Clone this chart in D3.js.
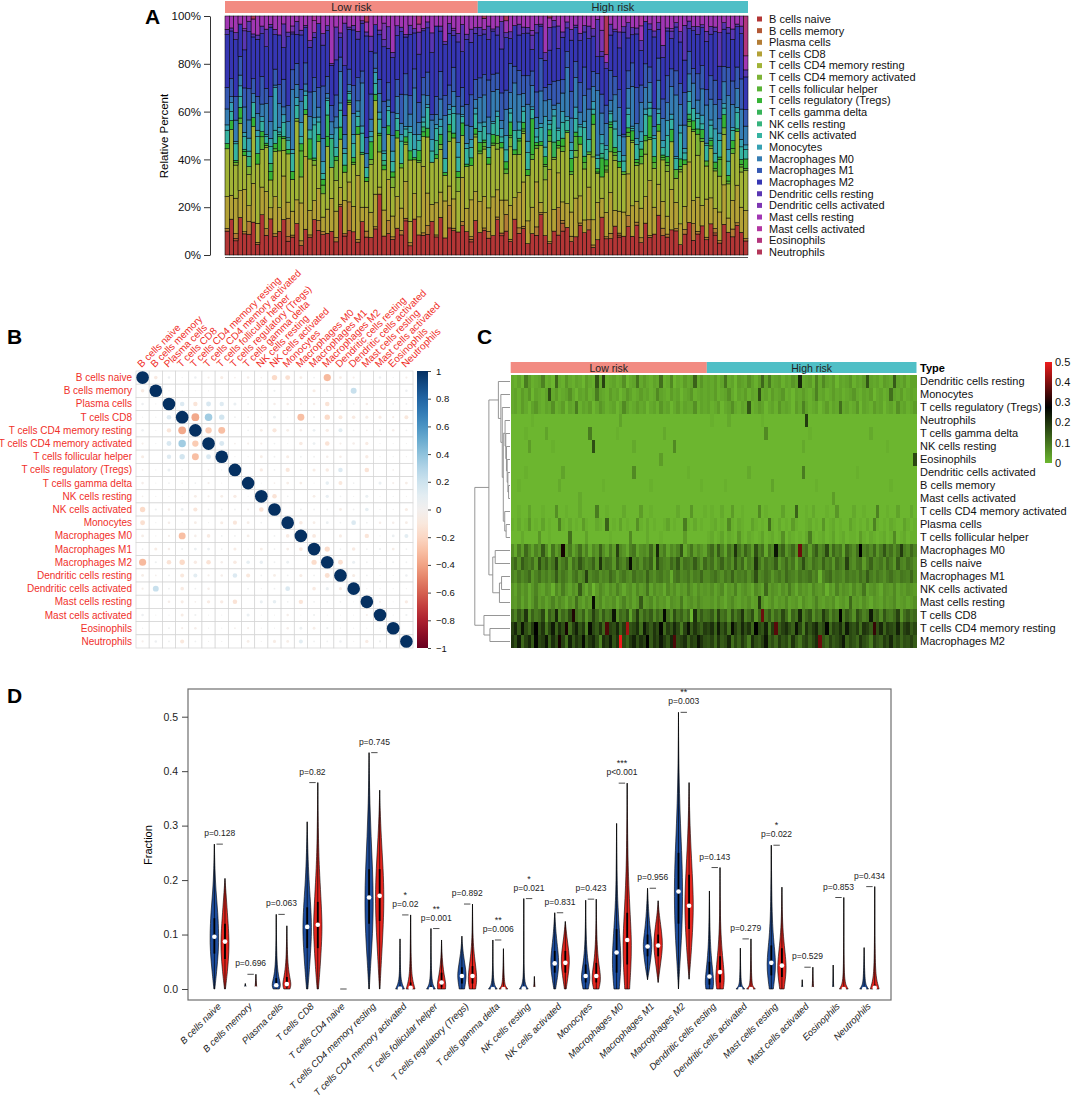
<!DOCTYPE html>
<html>
<head>
<meta charset="utf-8">
<script src="https://cdn.jsdelivr.net/npm/d3@7"></script>
<style>
body { margin: 0; background: #fff; }
svg { font-family: "Liberation Sans", Arial, sans-serif; }
</style>
</head>
<body>
<svg id="fig" width="1072" height="1097"></svg>
<script>
// ---- data -------------------------------------------------------------
var cellTypes = ["B cells naive", "B cells memory", "Plasma cells", "T cells CD8", "T cells CD4 memory resting",
	"T cells CD4 memory activated", "T cells follicular helper", "T cells regulatory (Tregs)", "T cells gamma delta",
	"NK cells resting", "NK cells activated", "Monocytes", "Macrophages M0", "Macrophages M1", "Macrophages M2",
	"Dendritic cells resting", "Dendritic cells activated", "Mast cells resting", "Mast cells activated",
	"Eosinophils", "Neutrophils"];

var riskGroups = ["Low risk", "High risk"];
var riskCounts = [58, 62];

// fraction (%) of each cell type per sample: 58 low risk samples, then 62 high risk samples
var bNaive = [9,12,6,14,10,8,11,5,16,9,13,7,10,18,6,9,12,4,11,8,15,10,7,9,13,6,20,8,11,10,5,14,9,7,12,26,8,10,6,11,9,13,3,17,10,8,7,12,9,15,6,11,10,8,14,9,5,12,
	8,11,5,9,13,7,10,6,15,8,12,4,9,7,20,10,6,11,8,9,14,5,8,12,7,10,3,9,16,8,6,11,9,7,13,8,10,5,12,9,7,18,8,6,10,11,4,9,13,7,8,10,6,12,9,5,14,8,7,11,9,6];
var bMemory = [0,0,1,0,0,0,0,0,0,0,0,0,0,0,2,0,0,0,0,0,0,0,0,0,0,0,0,1,0,0,0,0,0,0,0,0,0,0,0,0,0,1,0,0,0,0,0,0,0,0,0,0,0,0,0,0,1,0,
	0,0,0,0,0,1,0,0,0,0,0,0,0,0,0,0,0,0,0,3,0,0,0,0,0,0,0,0,0,0,0,0,1,0,0,0,0,0,0,0,0,0,0,0,0,0,0,0,0,0,0,0,0,0,1,0,0,0,0,0,0,0];
var plasma = [1,0,2,0,1,5,0,1,0,3,0,1,0,0,8,1,0,2,0,1,0,4,1,0,0,2,1,0,13,0,1,0,3,0,1,0,0,6,1,0,2,0,1,0,0,1,3,0,1,0,0,9,1,0,2,0,1,0,
	0,1,2,0,1,0,7,1,0,2,1,0,0,3,1,0,1,0,11,1,0,2,0,1,0,4,1,0,0,1,2,0,1,0,5,0,1,2,0,1,0,0,3,1,0,1,0,2,0,8,1,0,1,0,2,1,0,0,3,1,0,1];
var tCD8 = [12,8,15,10,20,6,13,9,11,17,4,14,10,22,7,12,9,16,31,11,8,13,5,10,18,12,7,14,9,11,25,6,12,10,15,3,11,19,8,13,10,14,7,12,9,27,11,6,16,10,13,8,12,0,21,9,14,10,
	11,14,7,18,10,12,6,15,9,13,20,8,11,16,5,12,38,10,14,7,12,9,17,11,4,13,10,22,8,12,15,6,11,9,19,13,7,12,10,28,9,14,11,6,16,12,8,10,24,11,13,7,15,10,9,12,18,5,11,14,10,12];
var tCD4Rest = [18,22,14,25,16,12,19,28,15,20,10,17,24,13,21,16,30,11,18,23,15,19,8,26,17,14,20,12,35,18,16,22,13,19,43,15,17,21,11,24,18,14,20,16,27,12,19,15,22,17,9,18,25,14,20,16,13,19,
	17,21,13,24,15,19,11,26,18,14,22,16,20,12,28,17,15,23,10,19,36,14,18,21,16,13,25,17,9,20,15,19,22,14,17,27,12,18,16,21,13,24,17,15,19,11,20,18,14,33,16,22,13,19,17,15,23,12,18,20,14,17];
var tCD4Act = [0,0,1,0,0,3,0,0,0,1,0,0,0,6,0,0,1,0,0,0,2,0,0,0,0,9,0,0,1,0,0,0,0,2,0,0,0,0,4,0,0,1,0,0,0,0,0,0,0,2,0,0,0,5,0,0,0,1,
	0,1,0,0,2,0,0,4,0,0,1,0,0,0,0,7,0,1,0,0,0,0,3,0,0,0,13,0,0,1,0,2,0,0,0,1,0,0,5,0,0,0,0,2,0,0,1,0,0,0,8,0,0,1,0,0,3,0,0,0,2,0];
var tFH = [0,0,0,2,0,0,0,0,5,0,0,1,0,0,0,0,0,11,0,0,0,0,3,0,0,0,0,0,0,1,0,0,0,0,0,7,0,0,0,0,2,0,0,0,1,0,0,0,0,0,0,4,0,0,0,0,0,0,
	1,2,0,1,3,0,2,1,0,5,1,0,2,1,0,1,3,0,1,2,0,1,6,0,2,1,0,1,0,2,9,1,0,1,2,0,1,3,0,1,2,0,1,1,0,4,1,0,2,1,0,1,2,0,1,7,0,1,2,0,1,1];
var tReg = [2,3,1,4,2,0,3,5,2,1,3,2,6,1,2,4,0,3,2,9,1,3,2,4,0,2,5,3,1,2,3,0,2,7,3,1,2,4,2,3,0,2,3,1,5,2,3,0,2,4,1,3,2,2,6,1,3,2,
	3,1,2,4,0,2,3,6,2,1,3,2,15,1,2,4,3,0,2,3,1,5,2,3,2,0,4,2,8,3,1,2,3,0,2,4,1,3,2,11,2,3,1,2,5,0,3,2,1,4,2,3,0,2,3,1,6,2,3,1,2,4];
var tGD = [0,0,0,0,1,0,0,0,0,0,3,0,0,0,0,0,0,0,0,0,0,0,0,9,0,0,0,0,0,0,0,1,0,0,0,0,0,0,0,0,0,0,0,0,0,2,0,0,0,0,0,0,0,0,0,0,0,0,
	0,0,0,0,0,0,0,0,0,0,0,0,0,0,0,0,0,7,0,0,0,0,0,0,0,0,0,0,0,0,1,0,0,0,0,0,0,0,0,0,0,0,0,0,0,0,0,0,2,0,0,0,0,0,0,0,0,0,0,0,0,0];
var nkRest = [0,0,0,0,0,4,0,0,0,0,0,0,1,0,0,0,0,0,0,0,0,0,0,0,16,0,0,0,0,0,0,0,0,0,0,0,2,0,0,0,0,0,0,0,0,0,0,0,7,0,0,0,0,0,0,0,0,0,
	0,0,0,0,0,0,0,0,0,0,0,0,0,0,0,0,0,0,0,0,0,0,0,0,0,0,0,0,2,0,0,0,0,0,0,0,0,0,0,0,0,0,0,0,0,0,0,0,0,0,0,0,0,1,0,0,0,0,0,0,0,0];
var nkAct = [5,3,7,4,6,2,5,8,4,3,6,5,1,7,4,9,5,3,6,4,14,5,2,6,0,4,7,5,3,6,4,8,5,2,5,6,3,7,4,5,10,3,6,4,5,2,7,4,6,3,5,4,8,5,3,6,4,5,
	4,6,3,5,7,2,5,4,8,3,5,6,4,2,7,5,3,12,4,6,5,3,6,4,9,5,2,6,4,5,3,7,5,4,6,1,5,3,8,4,6,5,3,7,4,5,10,3,5,6,4,2,6,5,4,7,3,5,4,6,5,4];
var mono = [2,3,1,4,2,5,0,3,2,1,3,16,2,4,1,2,3,6,2,0,3,2,4,1,2,9,3,2,1,4,2,3,0,2,5,3,1,2,4,2,3,1,2,7,3,2,1,4,2,3,0,2,3,5,1,2,3,2,
	3,2,4,1,2,3,6,2,0,3,2,4,1,3,2,16,2,3,1,4,2,3,5,1,2,0,3,2,4,2,1,3,8,2,3,1,2,4,2,3,1,2,3,5,2,1,3,2,4,0,2,3,1,2,11,3,2,4,1,2,3,2];
var m0 = [6,2,9,4,12,7,3,8,5,14,6,1,10,4,7,30,5,9,3,6,11,4,8,2,7,5,13,6,3,9,4,18,7,5,2,8,10,3,6,7,5,12,4,22,6,9,3,7,5,8,15,2,6,10,4,7,5,3,
	9,12,5,14,8,3,11,7,20,10,6,13,9,4,16,8,11,2,10,7,25,9,13,5,8,12,6,38,9,11,4,10,14,7,9,17,5,12,8,10,3,13,9,6,11,28,8,10,7,12,5,9,15,8,11,6,10,19,9,7,12,8];
var m1 = [8,6,10,7,9,12,5,8,11,7,9,6,8,14,7,10,8,5,9,11,6,8,18,7,9,10,6,8,7,12,9,5,8,10,7,6,11,8,9,7,13,8,6,9,10,7,8,2,9,11,7,8,10,6,9,8,12,7,
	7,9,11,8,6,10,8,13,7,9,8,10,6,9,16,7,8,11,9,5,8,10,7,12,9,8,6,10,8,9,11,7,9,1,8,10,12,7,9,8,6,10,8,9,7,11,8,14,9,7,10,8,6,9,11,8,7,10,9,8,12,7];
var m2 = [20,16,24,12,18,22,14,27,17,19,25,13,21,16,30,18,11,23,15,20,17,26,14,19,22,16,8,21,18,24,15,20,51,17,13,19,23,16,21,18,28,14,20,17,24,19,15,22,35,16,18,21,13,19,17,25,20,16,
	15,18,12,20,14,16,22,11,17,13,19,15,9,21,16,14,18,25,13,16,12,19,15,17,11,20,14,10,16,18,13,17,21,38,15,12,18,14,16,19,24,13,17,15,12,20,16,14,9,18,15,13,19,16,22,14,17,12,16,15,18,14];
var dcRest = [2,1,3,0,9,4,1,2,3,8,1,2,0,12,2,1,5,2,1,3,2,0,4,2,1,15,2,18,1,2,3,1,2,6,0,2,3,10,2,4,2,1,3,2,11,1,2,7,0,2,1,4,2,3,13,2,5,2,
	3,2,4,1,3,10,2,3,0,4,3,2,6,3,1,4,12,3,9,2,3,4,1,3,2,5,3,22,2,3,4,1,8,2,7,3,2,4,0,3,2,3,5,1,3,2,4,15,3,2,3,1,4,3,2,14,3,2,4,1,3,3];
var dcAct = [0,0,0,0,1,0,0,0,0,0,0,0,0,0,0,3,0,0,0,0,0,0,0,0,0,0,0,0,0,0,0,0,0,0,0,0,7,0,0,0,0,0,0,0,0,0,0,0,0,0,0,0,1,0,0,0,0,0,
	0,0,0,0,0,0,0,0,0,0,0,0,2,0,0,0,0,0,0,0,0,0,0,0,0,0,0,0,9,0,0,0,0,0,0,0,0,0,0,0,0,0,0,0,1,0,0,0,0,0,0,0,0,0,0,0,0,0,0,0,0,0];
var mastRest = [5,4,7,3,6,2,5,9,4,6,3,5,8,4,7,5,2,6,4,11,5,3,6,4,26,5,7,3,5,4,6,2,5,8,4,6,3,5,14,4,5,7,3,6,4,5,2,6,5,4,9,3,5,6,4,7,5,4,
	4,5,3,6,4,2,5,7,4,3,5,4,6,3,4,19,5,2,4,6,3,5,4,7,3,4,5,2,6,4,3,5,8,4,3,5,4,6,2,4,5,3,12,4,5,3,6,4,2,5,4,3,6,4,5,7,3,4,5,3,4,6];
var mastAct = [0,0,0,0,0,0,0,0,0,0,0,0,0,0,0,0,0,0,0,0,2,0,0,0,0,0,0,0,0,0,0,0,0,0,0,0,0,0,0,0,0,0,0,0,0,0,0,0,0,0,0,0,0,0,0,0,0,0,
	0,0,0,0,0,0,0,0,0,0,0,0,0,0,0,0,0,0,0,0,0,0,0,0,0,0,0,0,0,0,0,0,0,0,0,0,0,4,0,0,0,0,0,0,0,0,0,0,0,0,0,0,0,0,0,0,0,0,0,0,0,0];
var eos = [0,0,0,0,0,0,0,0,0,0,0,0,0,0,0,0,0,0,0,0,0,0,0,0,0,0,0,0,0,0,0,0,0,0,0,0,0,0,0,0,0,0,0,0,4,0,0,0,0,0,0,0,0,0,0,0,0,0,
	0,0,0,0,0,0,0,0,0,0,0,0,0,0,0,0,0,0,0,0,0,0,0,0,0,0,0,0,0,0,0,0,0,0,0,0,0,0,0,0,0,0,0,0,0,0,0,0,0,0,0,0,0,0,0,0,0,0,0,0,0,17];
var neut = [0,0,0,0,0,0,1,0,0,0,0,0,0,0,0,0,0,0,0,0,0,0,0,0,0,0,0,0,0,0,0,0,3,0,0,0,0,0,0,0,0,0,0,0,0,0,0,0,0,0,0,0,0,0,0,0,0,0,
	0,1,0,0,0,0,2,0,0,0,0,0,0,0,0,0,1,0,0,0,0,0,0,0,0,0,0,0,0,19,0,0,0,0,0,0,0,0,0,0,0,0,0,0,0,0,0,0,0,0,0,0,0,0,0,0,0,0,0,0,0,0];

var cellValues = [bNaive, bMemory, plasma, tCD8, tCD4Rest, tCD4Act, tFH, tReg, tGD, nkRest, nkAct, mono,
	m0, m1, m2, dcRest, dcAct, mastRest, mastAct, eos, neut];

// correlation matrix, lower triangle (row i, columns 0..i-1)
var corrLower = [
	[],
	[-0.08],
	[0.04, 0.01],
	[0.01, 0.01, 0.13],
	[0.04, 0.01, -0.12, -0.38],
	[-0.03, 0.01, 0.15, 0.35, -0.25],
	[-0.06, 0.00, 0.12, 0.18, -0.30, 0.15],
	[-0.02, 0.01, 0.06, 0.02, 0.00, -0.02, 0.01],
	[-0.04, 0.01, 0.02, -0.02, 0.02, -0.03, -0.01, 0.00],
	[-0.02, 0.01, 0.01, 0.01, -0.05, -0.03, -0.05, -0.07, 0.01],
	[-0.18, 0.03, -0.04, 0.05, -0.11, 0.02, 0.02, 0.02, -0.02, -0.13],
	[-0.15, 0.01, -0.04, 0.01, -0.05, 0.01, -0.06, -0.11, -0.05, 0.02, 0.00],
	[-0.05, 0.01, -0.03, -0.30, -0.04, -0.08, 0.02, 0.02, -0.05, 0.00, 0.02, -0.08],
	[0.02, -0.06, -0.04, 0.03, 0.05, 0.05, 0.02, -0.06, 0.01, -0.05, 0.02, -0.05, -0.09],
	[-0.32, 0.03, -0.13, -0.18, -0.07, -0.13, -0.04, -0.08, 0.08, 0.07, 0.02, 0.05, 0.00, -0.17],
	[-0.05, -0.02, 0.02, -0.10, 0.10, -0.03, -0.04, 0.13, -0.10, 0.02, -0.05, 0.02, -0.06, 0.02, -0.15],
	[-0.03, 0.22, 0.02, -0.08, 0.02, -0.04, 0.00, 0.00, 0.02, 0.01, 0.02, 0.14, 0.00, -0.08, 0.06, -0.06],
	[0.00, 0.00, -0.04, -0.06, -0.02, -0.07, -0.07, -0.13, 0.00, 0.06, 0.08, 0.02, -0.12, 0.02, 0.02, 0.02, 0.01],
	[0.04, 0.01, 0.01, -0.06, 0.03, 0.01, 0.01, 0.00, 0.06, 0.01, 0.01, -0.04, 0.01, 0.03, 0.01, 0.01, 0.01, -0.03],
	[0.01, 0.00, 0.02, -0.03, -0.04, 0.01, 0.01, -0.02, -0.03, 0.01, 0.01, -0.04, 0.05, -0.05, 0.03, 0.01, 0.01, 0.01, 0.01],
	[-0.03, 0.04, 0.02, -0.10, 0.02, 0.01, 0.01, 0.00, -0.05, 0.01, -0.06, -0.05, 0.10, 0.02, 0.02, 0.04, 0.01, -0.07, 0.03, 0.00]
];
var corrTicks = [1, 0.8, 0.6, 0.4, 0.2, 0, -0.2, -0.4, -0.6, -0.8, -1];

// heatmap row order and dendrogram [height, left, right]; leaves are row positions
var heatOrder = ["Dendritic cells resting", "Monocytes", "T cells regulatory (Tregs)", "Neutrophils", "T cells gamma delta",
	"NK cells resting", "Eosinophils", "Dendritic cells activated", "B cells memory", "Mast cells activated",
	"T cells CD4 memory activated", "Plasma cells", "T cells follicular helper", "Macrophages M0", "B cells naive",
	"Macrophages M1", "NK cells activated", "Mast cells resting", "T cells CD8", "T cells CD4 memory resting", "Macrophages M2"];
var heatTree = [1.0,
	[0.6,
		[0.33, 0, [0.26, 1, [0.22, 2, [0.19,
			[0.14, 3, [0.12, 4, [0.10, 5, [0.08, 6, [0.06, 7, [0.04, 8, 9]]]]]],
			[0.15, 10, [0.11, 11, 12]]]]]],
		[0.49, [0.42, 13, 14], [0.3, [0.24, 15, 16], 17]]],
	[0.74, 18, [0.57, 19, 20]]];
var heatTicks = [0, 0.1, 0.2, 0.3, 0.4, 0.5];

// violin plot: low risk (blue) vs high risk (red)
var violinCells = ["B cells naive", "B cells memory", "Plasma cells", "T cells CD8", "T cells CD4 naive",
	"T cells CD4 memory resting", "T cells CD4 memory activated", "T cells follicular helper", "T cells regulatory (Tregs)",
	"T cells gamma delta", "NK cells resting", "NK cells activated", "Monocytes", "Macrophages M0", "Macrophages M1",
	"Macrophages M2", "Dendritic cells resting", "Dendritic cells activated", "Mast cells resting", "Mast cells activated",
	"Eosinophils", "Neutrophils"];
var medLow  = [0.096, 0.001, 0.007, 0.114, 0, 0.168, 0.001, 0, 0.024, 0, 0.001, 0.047, 0.024, 0.067, 0.078, 0.179, 0.023, 0, 0.048, 0, 0, 0];
var medHigh = [0.087, 0.001, 0.009, 0.118, 0, 0.171, 0.002, 0.012, 0.024, 0, 0, 0.048, 0.024, 0.090, 0.080, 0.153, 0.031, 0, 0.043, 0, 0, 0.002];
var q1Low  = [0.065, 0, 0.002, 0.075, 0, 0.120, 0, 0, 0.010, 0, 0, 0.030, 0.012, 0.030, 0.060, 0.120, 0.008, 0, 0.025, 0, 0, 0];
var q3Low  = [0.130, 0.001, 0.020, 0.150, 0, 0.220, 0.006, 0.006, 0.040, 0.003, 0.004, 0.070, 0.045, 0.110, 0.100, 0.250, 0.050, 0.002, 0.080, 0, 0, 0.002];
var q1High = [0.055, 0, 0.003, 0.075, 0, 0.125, 0, 0.003, 0.010, 0, 0, 0.030, 0.012, 0.045, 0.060, 0.110, 0.012, 0, 0.022, 0, 0, 0];
var q3High = [0.120, 0.002, 0.022, 0.160, 0, 0.220, 0.012, 0.030, 0.042, 0.002, 0.001, 0.070, 0.048, 0.140, 0.100, 0.210, 0.060, 0.003, 0.075, 0.001, 0.003, 0.008];
// density outline: [fraction, relative half width]
var profLow = [
	[[0, 0.1], [0.03, 0.5], [0.07, 0.95], [0.1, 1], [0.14, 0.8], [0.18, 0.35], [0.22, 0.12], [0.266, 0]],
	[[0, 0.3], [0.003, 0.2], [0.01, 0]],
	[[0, 0.7], [0.006, 1], [0.015, 0.8], [0.03, 0.35], [0.06, 0.12], [0.1, 0.04], [0.137, 0]],
	[[0, 0.15], [0.04, 0.55], [0.09, 0.95], [0.12, 1], [0.16, 0.75], [0.2, 0.4], [0.25, 0.15], [0.307, 0]],
	null,
	[[0, 0.05], [0.05, 0.4], [0.1, 0.8], [0.16, 1], [0.22, 0.8], [0.28, 0.45], [0.34, 0.18], [0.4, 0.05], [0.434, 0]],
	[[0, 1], [0.005, 0.7], [0.015, 0.25], [0.04, 0.06], [0.092, 0]],
	[[0, 1], [0.005, 0.6], [0.015, 0.2], [0.05, 0.04], [0.111, 0]],
	[[0, 0.6], [0.015, 0.9], [0.028, 1], [0.045, 0.7], [0.065, 0.3], [0.085, 0.08], [0.097, 0]],
	[[0, 1], [0.004, 0.6], [0.012, 0.2], [0.04, 0.04], [0.09, 0]],
	[[0, 1], [0.005, 0.55], [0.015, 0.15], [0.05, 0.03], [0.166, 0]],
	[[0, 0.2], [0.02, 0.6], [0.045, 1], [0.07, 0.75], [0.1, 0.3], [0.14, 0]],
	[[0, 0.6], [0.015, 0.95], [0.025, 1], [0.045, 0.6], [0.07, 0.25], [0.11, 0.06], [0.163, 0]],
	[[0, 0.6], [0.03, 0.9], [0.06, 1], [0.1, 0.7], [0.15, 0.3], [0.2, 0.1], [0.304, 0]],
	[[0.017, 0], [0.04, 0.5], [0.07, 0.95], [0.085, 1], [0.11, 0.6], [0.14, 0.25], [0.185, 0]],
	[[0, 0], [0.05, 0.35], [0.1, 0.75], [0.17, 1], [0.24, 0.8], [0.3, 0.45], [0.38, 0.15], [0.45, 0.04], [0.508, 0]],
	[[0, 0.8], [0.012, 1], [0.03, 0.8], [0.06, 0.4], [0.1, 0.12], [0.18, 0]],
	[[0, 1], [0.004, 0.5], [0.012, 0.1], [0.075, 0]],
	[[0, 0.45], [0.025, 0.85], [0.045, 1], [0.07, 0.8], [0.1, 0.4], [0.15, 0.12], [0.264, 0]],
	[[0, 0.2], [0.004, 0.08], [0.017, 0]],
	[[0, 0.2], [0.004, 0.08], [0.044, 0]],
	[[0, 1], [0.005, 0.55], [0.015, 0.15], [0.076, 0]]
];
var profHigh = [
	[[0, 0.1], [0.03, 0.55], [0.07, 0.95], [0.1, 0.9], [0.14, 0.55], [0.18, 0.2], [0.203, 0]],
	[[0, 0.3], [0.004, 0.15], [0.027, 0]],
	[[0, 0.7], [0.008, 1], [0.02, 0.7], [0.04, 0.3], [0.07, 0.1], [0.116, 0]],
	[[0, 0.15], [0.04, 0.55], [0.09, 0.9], [0.12, 1], [0.17, 0.7], [0.22, 0.35], [0.28, 0.12], [0.379, 0]],
	null,
	[[0, 0.05], [0.06, 0.45], [0.12, 0.85], [0.17, 1], [0.22, 0.8], [0.28, 0.35], [0.33, 0.1], [0.365, 0]],
	[[0, 1], [0.006, 0.8], [0.02, 0.35], [0.05, 0.1], [0.136, 0]],
	[[0, 0.9], [0.01, 1], [0.025, 0.6], [0.045, 0.25], [0.07, 0.06], [0.09, 0]],
	[[0, 0.7], [0.015, 1], [0.03, 0.9], [0.05, 0.6], [0.07, 0.3], [0.1, 0.08], [0.156, 0]],
	[[0, 1], [0.004, 0.55], [0.012, 0.15], [0.074, 0]],
	[[0, 0.25], [0.005, 0.1], [0.023, 0]],
	[[0, 0.2], [0.025, 0.65], [0.048, 1], [0.07, 0.8], [0.095, 0.35], [0.124, 0]],
	[[0, 0.6], [0.015, 1], [0.03, 0.9], [0.05, 0.5], [0.08, 0.2], [0.12, 0.05], [0.165, 0]],
	[[0, 0.55], [0.04, 0.85], [0.08, 1], [0.12, 0.8], [0.18, 0.4], [0.25, 0.12], [0.378, 0]],
	[[0.012, 0], [0.04, 0.45], [0.07, 0.95], [0.09, 1], [0.12, 0.55], [0.14, 0.2], [0.162, 0]],
	[[0.018, 0], [0.06, 0.45], [0.12, 0.9], [0.16, 1], [0.21, 0.75], [0.27, 0.35], [0.33, 0.1], [0.379, 0]],
	[[0, 0.75], [0.015, 1], [0.035, 0.9], [0.07, 0.45], [0.11, 0.15], [0.16, 0.04], [0.223, 0]],
	[[0, 1], [0.004, 0.5], [0.012, 0.12], [0.092, 0]],
	[[0, 0.5], [0.025, 0.9], [0.042, 1], [0.065, 0.75], [0.095, 0.35], [0.13, 0.1], [0.187, 0]],
	[[0, 0.25], [0.005, 0.1], [0.04, 0]],
	[[0, 1], [0.005, 0.6], [0.015, 0.2], [0.05, 0.04], [0.168, 0]],
	[[0, 1], [0.006, 0.8], [0.02, 0.3], [0.06, 0.06], [0.188, 0]]
];
var pValues = ["0.128", "0.696", "0.063", "0.82", null, "0.745", "0.02", "0.001", "0.892", "0.006", "0.021",
	"0.831", "0.423", "<0.001", "0.956", "0.003", "0.143", "0.279", "0.022", "0.529", "0.853", "0.434"];
var pStars = ["", "", "", "", "", "", "*", "**", "", "**", "*", "", "", "***", "", "**", "", "", "*", "", "", ""];
var fractionTicks = [0, 0.1, 0.2, 0.3, 0.4, 0.5];

// ---- helpers ------------------------------------------------------------
var svg = d3.select("#fig");
var defs = svg.append("defs");
var FONT = '"Liberation Sans", Arial, sans-serif';
var riskColors = ["#f28b82", "#4fbfc6"];
var lowBlue = "#1f4e9e", highRed = "#e5261f";

// R rainbow(n, s, v)
function rainbow(n, s, v) {
	return d3.range(n).map(function(i) {
		var h = i / n * 6, k = Math.floor(h), f = h - k;
		var p = v * (1 - s), q = v * (1 - s * f), t = v * (1 - s * (1 - f));
		var c = [[v, t, p], [q, v, p], [p, v, t], [p, q, v], [t, p, v], [v, p, q]][k % 6];
		return d3.rgb(c[0] * 255, c[1] * 255, c[2] * 255).formatHex();
	});
}
var cellColors = rainbow(cellTypes.length, 0.7, 0.7);

function panelLetter(txt, x, y) {
	svg.append("text").attr("x", x).attr("y", y).attr("font-size", 21).attr("font-weight", "bold").text(txt);
}

var N = bNaive.length;

// ---- A: stacked relative percent ------------------------------------------
panelLetter("A", 145, 24);
var samples = d3.range(N).map(function(s) {
	var tot = d3.sum(cellValues, function(a) { return a[s]; });
	var o = {};
	cellValues.forEach(function(a, k) { o[k] = a[s] / tot; });
	return o;
});
var stackA = d3.stack().keys(d3.range(cellTypes.length))(samples);
var xA = d3.scaleBand().domain(d3.range(N)).range([225, 748]);
var yA = d3.scaleLinear().domain([0, 1]).range([255, 16]);
var gA = svg.append("g");

stackA.forEach(function(layer, k) {
	gA.append("g").attr("fill", cellColors[k]).attr("stroke", "#000").attr("stroke-width", 0.55)
		.selectAll("rect").data(layer).join("rect")
		.attr("x", function(d, i) { return xA(i); })
		.attr("width", xA.bandwidth())
		.attr("y", function(d) { return yA(d[1]); })
		.attr("height", function(d) { return yA(d[0]) - yA(d[1]); });
});

gA.append("g").attr("transform", "translate(210,0)")
	.call(d3.axisLeft(yA).tickValues([0, 0.2, 0.4, 0.6, 0.8, 1]).tickFormat(d3.format(".0%")).tickSize(6).tickSizeOuter(0))
	.call(function(g) {
		g.attr("font-family", FONT).attr("font-size", 11.5);
		g.selectAll("path,line").attr("stroke", "#333");
		g.selectAll("text").attr("fill", "#111");
	});
gA.append("line").attr("x1", xA(0)).attr("x2", xA(N - 1) + xA.bandwidth())
	.attr("y1", 257.5).attr("y2", 257.5).attr("stroke", "#555").attr("stroke-width", 1.2);
gA.append("text").attr("transform", "translate(168,136) rotate(-90)").attr("text-anchor", "middle")
	.attr("font-size", 11.5).text("Relative Percent");

// risk annotation bar
riskGroups.forEach(function(name, gi) {
	var first = gi === 0 ? 0 : riskCounts[0];
	var last = gi === 0 ? riskCounts[0] - 1 : N - 1;
	var x0 = xA(first), x1 = xA(last) + xA.bandwidth();
	gA.append("rect").attr("x", x0).attr("y", 1).attr("width", x1 - x0).attr("height", 12).attr("fill", riskColors[gi]);
	gA.append("text").attr("x", (x0 + x1) / 2).attr("y", 11).attr("text-anchor", "middle")
		.attr("font-size", 11).attr("fill", "#222").text(name);
});

// legend
var legA = svg.append("g");
cellTypes.forEach(function(name, k) {
	var y = 19 + k * 11.65;
	legA.append("rect").attr("x", 757).attr("y", y - 2.5).attr("width", 5).attr("height", 5).attr("fill", cellColors[k]);
	legA.append("text").attr("x", 769).attr("y", y).attr("dy", "0.35em").attr("font-size", 11).attr("fill", "#111").text(name);
});

// ---- B: correlation matrix ---------------------------------------------------
panelLetter("B", 7, 344);
var corr = cellTypes.map(function(a, i) {
	return cellTypes.map(function(b, j) {
		return i === j ? 1 : (i > j ? corrLower[i][j] : corrLower[j][i]);
	});
});
var xB = d3.scaleBand().domain(cellTypes).range([136, 413]);
var yB = d3.scaleBand().domain(cellTypes).range([371, 648]);
var corrColor = function(v) { return d3.interpolateRdBu((v + 1) / 2); };
var gB = svg.append("g");
var cellsB = [];
corr.forEach(function(row, i) { row.forEach(function(v, j) { cellsB.push({ r: cellTypes[i], c: cellTypes[j], v: v }); }); });

gB.append("g").selectAll("rect").data(cellsB).join("rect")
	.attr("x", function(d) { return xB(d.c); }).attr("y", function(d) { return yB(d.r); })
	.attr("width", xB.bandwidth()).attr("height", yB.bandwidth())
	.attr("fill", "#fff").attr("stroke", "#d4d4d4").attr("stroke-width", 0.7);
gB.append("g").selectAll("circle").data(cellsB).join("circle")
	.attr("cx", function(d) { return xB(d.c) + xB.bandwidth() / 2; })
	.attr("cy", function(d) { return yB(d.r) + yB.bandwidth() / 2; })
	.attr("r", function(d) { return Math.sqrt(Math.abs(d.v)) * xB.bandwidth() * 0.48; })
	.attr("fill", function(d) { return corrColor(d.v); });

gB.append("g").selectAll("text").data(cellTypes).join("text")
	.attr("x", 132).attr("y", function(d) { return yB(d) + yB.bandwidth() / 2; }).attr("dy", "0.35em")
	.attr("text-anchor", "end").attr("font-size", 10).attr("fill", "#f0302a").text(function(d) { return d; });
gB.append("g").selectAll("text").data(cellTypes).join("text")
	.attr("transform", function(d) { return "translate(" + (xB(d) + xB.bandwidth() / 2 - 1) + ",368) rotate(-45)"; })
	.attr("font-size", 10).attr("fill", "#f0302a").text(function(d) { return d; });

// colour key
var yKeyB = d3.scaleLinear().domain([-1, 1]).range([648, 371]);
var gradB = defs.append("linearGradient").attr("id", "gradB")
	.attr("x1", 0).attr("y1", 1).attr("x2", 0).attr("y2", 0);
d3.range(0, 1.0001, 0.05).forEach(function(t) {
	gradB.append("stop").attr("offset", t).attr("stop-color", corrColor(t * 2 - 1));
});
gB.append("rect").attr("x", 417).attr("y", yKeyB(1)).attr("width", 11).attr("height", yKeyB(-1) - yKeyB(1))
	.attr("fill", "url(#gradB)");
gB.append("g").attr("transform", "translate(428,0)")
	.call(d3.axisRight(yKeyB).tickValues(corrTicks).tickSize(3).tickSizeOuter(0)
		.tickFormat(function(d) { return d < 0 ? "\u2212" + Math.abs(d) : String(d); }))
	.call(function(g) {
		g.select(".domain").remove();
		g.attr("font-family", FONT).attr("font-size", 9.5);
		g.selectAll("line").attr("stroke", "#444");
		g.selectAll("text").attr("fill", "#111").attr("x", 8);
	});

// ---- C: heatmap -----------------------------------------------------------------
panelLetter("C", 477, 344);
var xC = d3.scaleBand().domain(d3.range(N)).range([510.7, 916.5]);
var yC = d3.scaleBand().domain(heatOrder).range([375, 648]);
var heatColor = d3.scaleLinear().domain([0, 0.28, 0.5]).range(["#6cb62f", "#000000", "#ee1c1c"]).clamp(true);
var gC = svg.append("g").attr("shape-rendering", "crispEdges");
var cellsC = [];
heatOrder.forEach(function(name) {
	var vals = cellValues[cellTypes.indexOf(name)];
	vals.forEach(function(v, s) { cellsC.push({ r: name, s: s, v: v / 100 }); });
});
gC.selectAll("rect").data(cellsC).join("rect")
	.attr("x", function(d) { return xC(d.s); }).attr("y", function(d) { return yC(d.r); })
	.attr("width", xC.bandwidth() + 0.3).attr("height", yC.bandwidth() + 0.3)
	.attr("fill", function(d) { return heatColor(d.v); });

riskGroups.forEach(function(name, gi) {
	var first = gi === 0 ? 0 : riskCounts[0];
	var last = gi === 0 ? riskCounts[0] - 1 : N - 1;
	var x0 = xC(first), x1 = xC(last) + xC.bandwidth();
	svg.append("rect").attr("x", x0).attr("y", 362).attr("width", x1 - x0).attr("height", 11).attr("fill", riskColors[gi]);
	svg.append("text").attr("x", (x0 + x1) / 2).attr("y", 371.5).attr("text-anchor", "middle")
		.attr("font-size", 10.5).attr("fill", "#222").text(name);
});
svg.append("text").attr("x", 920).attr("y", 368).attr("dy", "0.35em").attr("font-size", 11)
	.attr("font-weight", "bold").text("Type");
svg.append("g").selectAll("text").data(heatOrder).join("text")
	.attr("x", 920).attr("y", function(d) { return yC(d) + yC.bandwidth() / 2; }).attr("dy", "0.35em")
	.attr("font-size", 11).attr("fill", "#111").text(function(d) { return d; });

// dendrogram
var xDen = d3.scaleLinear().domain([0, 1]).range([510, 474.8]);
var gDen = svg.append("g").attr("fill", "none").attr("stroke", "#8a8a8a").attr("stroke-width", 0.9);
function drawNode(n) {
	if (typeof n === "number") {
		var name = heatOrder[n];
		return { y: yC(name) + yC.bandwidth() / 2, h: 0 };
	}
	var l = drawNode(n[1]), r = drawNode(n[2]);
	var p = d3.path();
	p.moveTo(xDen(l.h), l.y);
	p.lineTo(xDen(n[0]), l.y);
	p.lineTo(xDen(n[0]), r.y);
	p.lineTo(xDen(r.h), r.y);
	gDen.append("path").attr("d", p.toString());
	return { y: (l.y + r.y) / 2, h: n[0] };
}
drawNode(heatTree);

// colour key
var yKeyC = d3.scaleLinear().domain([0, 0.5]).range([463, 362]);
var gradC = defs.append("linearGradient").attr("id", "gradC")
	.attr("x1", 0).attr("y1", 1).attr("x2", 0).attr("y2", 0);
d3.range(0, 1.0001, 0.05).forEach(function(t) {
	gradC.append("stop").attr("offset", t).attr("stop-color", heatColor(t * 0.5));
});
svg.append("rect").attr("x", 1045).attr("y", yKeyC(0.5)).attr("width", 7).attr("height", yKeyC(0) - yKeyC(0.5))
	.attr("fill", "url(#gradC)");
svg.append("g").selectAll("text").data(heatTicks).join("text")
	.attr("x", 1055).attr("y", function(d) { return yKeyC(d); }).attr("dy", "0.35em")
	.attr("font-size", 11).attr("fill", "#111").text(function(d) { return d === 0 ? "0" : d.toFixed(1); });

// ---- D: violin plot ----------------------------------------------------------------
panelLetter("D", 7, 703);
var xD = d3.scaleBand().domain(violinCells).range([204.2, 884.9]);
var yD = d3.scaleLinear().domain([0, 0.5]).range([989, 716.7]);
var wD = d3.scaleLinear().domain([0, 1]).range([0, 4.4]);
var gD = svg.append("g");

gD.append("rect").attr("x", 188).attr("y", 689).attr("width", 703).attr("height", 311)
	.attr("fill", "none").attr("stroke", "#6e6e6e").attr("stroke-width", 1.2);
gD.append("g").attr("transform", "translate(188,0)")
	.call(d3.axisLeft(yD).tickValues(fractionTicks).tickFormat(d3.format(".1f")).tickSize(6).tickSizeOuter(0))
	.call(function(g) {
		g.attr("font-family", FONT).attr("font-size", 10.5);
		g.select(".domain").remove();
		g.selectAll("line").attr("stroke", "#444");
		g.selectAll("text").attr("fill", "#222").attr("x", -10);
	});
gD.append("text").attr("transform", "translate(152,845) rotate(-90)").attr("text-anchor", "middle")
	.attr("font-size", 11).text("Fraction");

function drawViolin(cx, prof, med, q1, q3, color) {
	var area = d3.area().curve(d3.curveBasis)
		.y(function(d) { return yD(d[0]); })
		.x0(function(d) { return cx - wD(d[1]); })
		.x1(function(d) { return cx + wD(d[1]); });
	gD.append("path").attr("d", area(prof)).attr("fill", color).attr("stroke", "#000").attr("stroke-width", 0.6);
	gD.append("line").attr("x1", cx).attr("x2", cx).attr("y1", yD(prof[0][0])).attr("y2", yD(prof[prof.length - 1][0]))
		.attr("stroke", "#000").attr("stroke-width", 0.7);
	gD.append("line").attr("x1", cx).attr("x2", cx).attr("y1", yD(q1)).attr("y2", yD(q3))
		.attr("stroke", "#000").attr("stroke-width", 1.8);
	gD.append("circle").attr("cx", cx).attr("cy", yD(med)).attr("r", 2.3).attr("fill", "#fff");
}

violinCells.forEach(function(name, i) {
	var c = xD(name) + xD.bandwidth() / 2;
	var top = 0;
	if (profLow[i]) {
		drawViolin(c - 5.3, profLow[i], medLow[i], q1Low[i], q3Low[i], lowBlue);
		top = Math.max(top, profLow[i][profLow[i].length - 1][0]);
	}
	if (profHigh[i]) {
		drawViolin(c + 5.3, profHigh[i], medHigh[i], q1High[i], q3High[i], highRed);
		top = Math.max(top, profHigh[i][profHigh[i].length - 1][0]);
	}
	var yTop = yD(top);
	gD.append("line").attr("x1", c - 3.2).attr("x2", c + 3.2).attr("y1", yTop).attr("y2", yTop)
		.attr("stroke", "#000").attr("stroke-width", 0.7);
	if (pValues[i]) {
		var lab = pValues[i].charAt(0) === "<" ? "p" + pValues[i] : "p=" + pValues[i];
		gD.append("text").attr("x", c).attr("y", yTop - 8).attr("text-anchor", "middle")
			.attr("font-size", 8.5).attr("fill", "#222").text(lab);
	}
	if (pStars[i]) {
		gD.append("text").attr("x", c).attr("y", yTop - 17).attr("text-anchor", "middle")
			.attr("font-size", 9).attr("fill", "#222").text(pStars[i]);
	}
	gD.append("text").attr("transform", "translate(" + (c + 2) + ",1007) rotate(-45)")
		.attr("text-anchor", "end").attr("font-size", 9.5).attr("font-style", "italic").attr("fill", "#222").text(name);
});
</script>
</body>
</html>
